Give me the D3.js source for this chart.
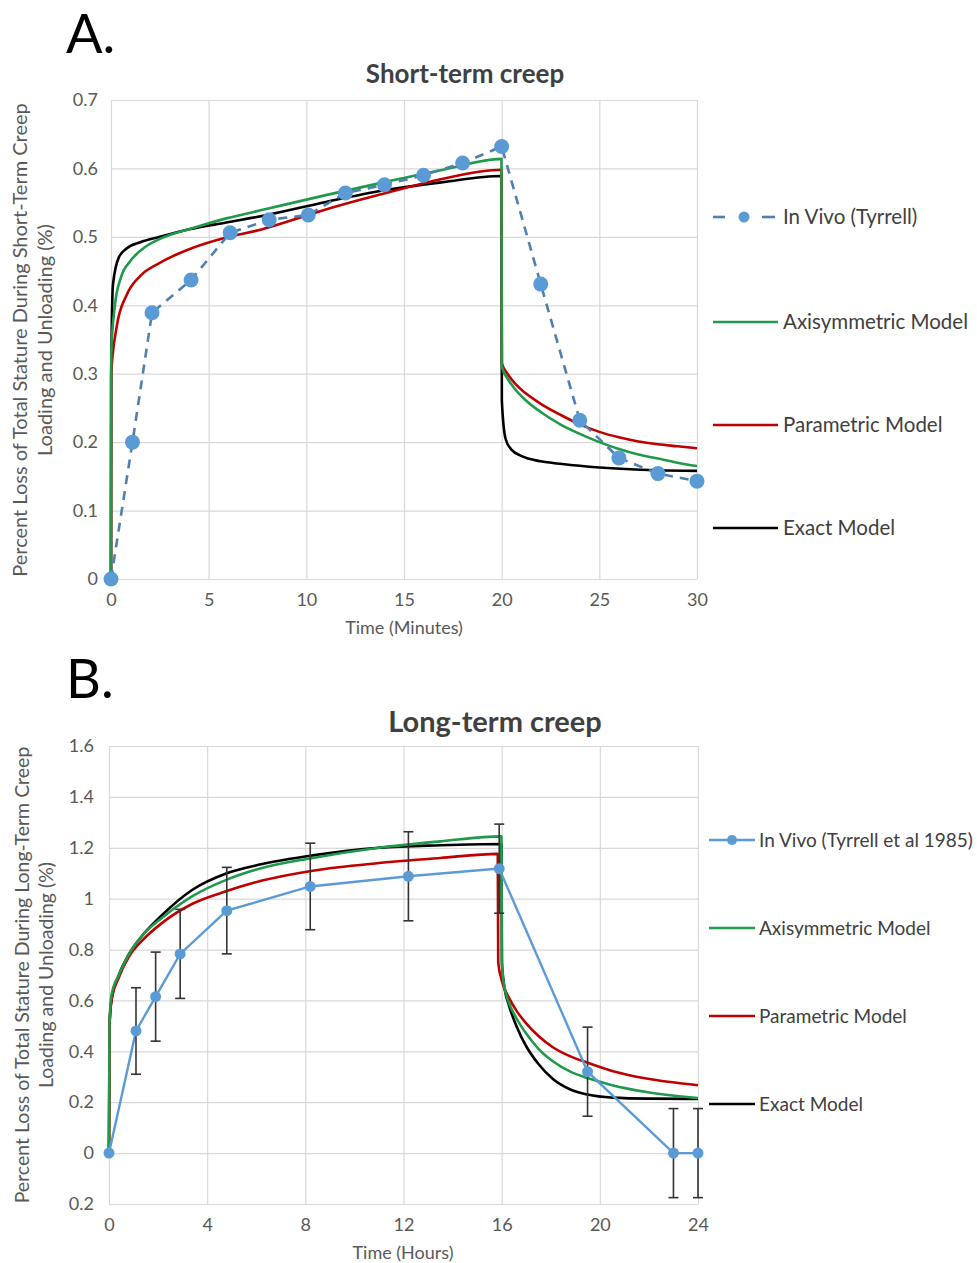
<!DOCTYPE html>
<html>
<head>
<meta charset="utf-8">
<script src="https://cdn.jsdelivr.net/npm/d3@7"></script>
<style>
  html, body { margin: 0; padding: 0; background: #fff; }
  svg { display: block; font-family: Lato, "Open Sans", sans-serif; }
</style>
</head>
<body>
<svg id="chart" width="977" height="1263"></svg>
<script>
// ---------------- DATA: Panel A (short-term creep, minutes) ----------------
const shortTicksX = [0, 5, 10, 15, 20, 25, 30];
const shortTicksY = [0, 0.1, 0.2, 0.3, 0.4, 0.5, 0.6, 0.7];
const shortInVivoT = [0, 1.1, 2.1, 4.1, 6.1, 8.1, 10.1, 12, 14, 16, 18, 20, 22, 24, 26, 28, 30];
const shortInVivoV = [0, 0.2, 0.389, 0.437, 0.506, 0.525, 0.532, 0.564, 0.576, 0.59, 0.608, 0.632, 0.431, 0.232, 0.177, 0.154, 0.143];
const shortAxisym = [[0,0],[0.01,0.33],[0.2,0.4],[0.5,0.44],[1,0.465],[1.6,0.482],[2.5,0.497],[4.2,0.513],[5.9,0.527],[8,0.541],[11,0.561],[14,0.58],[17,0.598],[19.99,0.614],
  [20.01,0.31],[20.3,0.293],[20.7,0.277],[21.2,0.262],[22,0.244],[23,0.226],[24,0.212],[25,0.2],[26,0.19],[27,0.182],[28,0.176],[29,0.17],[30,0.165]];
const shortParam = [[0,0],[0.01,0.3],[0.3,0.37],[0.8,0.415],[1.5,0.443],[2.5,0.462],[4.2,0.484],[5.9,0.499],[7.6,0.51],[9,0.522],[11,0.54],[13,0.556],[15,0.571],[17,0.585],[19.99,0.598],
  [20.01,0.315],[20.3,0.3],[20.7,0.285],[21.2,0.272],[22,0.256],[23,0.24],[24,0.226],[25,0.215],[26,0.207],[27,0.201],[28,0.197],[29,0.194],[30,0.191]];
const shortExact = [[0,0],[0.01,0.3],[0.1,0.43],[0.4,0.47],[0.8,0.483],[1.5,0.492],[2.5,0.5],[4,0.511],[5.9,0.521],[8,0.532],[11,0.551],[14,0.568],[17,0.58],[19.99,0.589],
  [20.01,0.26],[20.2,0.205],[20.5,0.189],[21,0.18],[22,0.172],[23.1,0.168],[25,0.163],[28,0.159],[30,0.158]];

// ---------------- DATA: Panel B (long-term creep, hours) ----------------
const longTicksX = [0, 4, 8, 12, 16, 20, 24];
const longTicksY = [-0.2, 0, 0.2, 0.4, 0.6, 0.8, 1, 1.2, 1.4, 1.6];
const longInVivoT = [0, 1.1, 1.9, 2.9, 4.8, 8.2, 12.2, 15.9, 19.5, 23, 24];
const longInVivoV = [0, 0.48, 0.615, 0.783, 0.953, 1.048, 1.088, 1.118, 0.32, 0, 0];
const longInVivoErr = [0, 0.17, 0.175, 0.175, 0.17, 0.17, 0.175, 0.175, 0.175, 0.175, 0.175];
const longAxisym = [[0,0],[0.02,0.5],[0.1,0.62],[0.4,0.7],[0.8,0.78],[1.4,0.86],[2.1,0.92],[3.4,1.01],[4.8,1.075],[6.2,1.12],[8.3,1.16],[11,1.2],[13.5,1.225],[15.99,1.245],
  [16.01,0.75],[16.1,0.66],[16.3,0.59],[16.6,0.53],[17,0.47],[17.5,0.41],[18.1,0.36],[18.8,0.32],[19.5,0.295],[20.5,0.267],[21.9,0.24],[24,0.216]];
const longParam = [[0,0],[0.02,0.5],[0.1,0.6],[0.4,0.69],[0.8,0.77],[1.4,0.84],[2.1,0.9],[3.4,0.98],[4.8,1.03],[6.2,1.07],[8.3,1.11],[11,1.14],[13.5,1.16],[15.84,1.176],
  [15.86,0.75],[16.0,0.68],[16.3,0.61],[16.6,0.56],[17,0.51],[17.5,0.46],[18.1,0.415],[18.8,0.38],[19.5,0.355],[20.5,0.323],[21.9,0.293],[24,0.267]];
const longExact = [[0,0],[0.02,0.5],[0.1,0.6],[0.4,0.7],[0.8,0.78],[1.4,0.86],[2.1,0.93],[3.4,1.035],[4.8,1.1],[6.2,1.135],[8.3,1.17],[11,1.2],[13.5,1.21],[15.99,1.215],
  [16.01,0.75],[16.1,0.66],[16.3,0.58],[16.6,0.5],[17,0.42],[17.5,0.35],[18.1,0.29],[18.8,0.25],[19.5,0.23],[20.5,0.218],[22,0.214],[24,0.213]];

// ---------------- STYLE ----------------
const GRID = "#d9d9d9", TICK = "#595959", TXT = "#404040";
const C_VIVO = "#5b9bd5", C_VIVO_LINE = "#4f7fb0", C_GREEN = "#1f9a4a", C_RED = "#c00000", C_BLACK = "#000000";

const svg = d3.select("#chart");

function panel(cfg) {
  const x = d3.scaleLinear().domain(cfg.xDom).range(cfg.xRange);
  const y = d3.scaleLinear().domain(cfg.yDom).range(cfg.yRange);
  const g = svg.append("g");
  const h = cfg.yRange[0] - cfg.yRange[1];
  const w = cfg.xRange[1] - cfg.xRange[0];

  const gx = g.append("g").attr("transform", `translate(0,${cfg.yRange[0]})`)
    .call(d3.axisBottom(x).tickValues(cfg.ticksX).tickSize(-h).tickPadding(cfg.padX).tickFormat(d3.format("d")));
  const gy = g.append("g").attr("transform", `translate(${cfg.xRange[0]},0)`)
    .call(d3.axisLeft(y).tickValues(cfg.ticksY).tickSize(-w).tickPadding(cfg.padY).tickFormat(cfg.fmtY));
  [gx, gy].forEach(a => {
    a.select(".domain").remove();
    a.selectAll("line").attr("stroke", GRID).attr("stroke-width", 1.2);
    a.selectAll("text").attr("fill", TICK).style("font-size", cfg.tickFont + "px").style("font-family", "Lato, sans-serif");
  });

  const line = d3.line().x(d => x(d[0])).y(d => y(d[1])).curve(d3.curveMonotoneX);
  const models = [[cfg.exact, C_BLACK], [cfg.param, C_RED], [cfg.axisym, C_GREEN]];
  models.forEach(([data, col]) => {
    g.append("path").datum(data).attr("d", line).attr("fill", "none")
      .attr("stroke", col).attr("stroke-width", 2.6).attr("stroke-linejoin", "round");
  });
  return { g, x, y };
}

// ---------- Panel A ----------
const A = panel({
  xDom: [0, 30], xRange: [111, 697], yDom: [0, 0.7], yRange: [579, 100],
  ticksX: shortTicksX, ticksY: shortTicksY, padX: 14, padY: 13, tickFont: 18,
  fmtY: d => d === 0 ? "0" : d3.format(".1f")(d),
  exact: shortExact, param: shortParam, axisym: shortAxisym
});
const vivoA = shortInVivoT.map((t, i) => [t, shortInVivoV[i]]);
A.g.append("path").datum(vivoA)
  .attr("d", d3.line().x(d => A.x(d[0])).y(d => A.y(d[1])))
  .attr("fill", "none").attr("stroke", C_VIVO_LINE).attr("stroke-width", 2.6).attr("stroke-dasharray", "9,7");
A.g.selectAll("circle.v").data(vivoA).join("circle")
  .attr("cx", d => A.x(d[0])).attr("cy", d => A.y(d[1])).attr("r", 7.5).attr("fill", C_VIVO);

// ---------- Panel B ----------
const B = panel({
  xDom: [0, 24], xRange: [109, 698], yDom: [-0.2, 1.6], yRange: [1204, 746],
  ticksX: longTicksX, ticksY: longTicksY, padX: 14, padY: 15, tickFont: 18,
  fmtY: d => { const a = Math.abs(d); return a === 0 ? "0" : (Number.isInteger(a) ? String(a) : d3.format(".1f")(a)); },
  exact: longExact, param: longParam, axisym: longAxisym
});
const vivoB = longInVivoT.map((t, i) => [t, longInVivoV[i], longInVivoErr[i]]);
B.g.append("path").datum(vivoB)
  .attr("d", d3.line().x(d => B.x(d[0])).y(d => B.y(d[1])))
  .attr("fill", "none").attr("stroke", C_VIVO).attr("stroke-width", 2.4);
const eb = B.g.selectAll("g.err").data(vivoB.filter(d => d[2] > 0)).join("g");
eb.append("line").attr("x1", d => B.x(d[0])).attr("x2", d => B.x(d[0]))
  .attr("y1", d => B.y(d[1] + d[2])).attr("y2", d => B.y(d[1] - d[2]))
  .attr("stroke", "#333").attr("stroke-width", 1.6);
[1, -1].forEach(s => {
  eb.append("line").attr("x1", d => B.x(d[0]) - 5).attr("x2", d => B.x(d[0]) + 5)
    .attr("y1", d => B.y(d[1] + s * d[2])).attr("y2", d => B.y(d[1] + s * d[2]))
    .attr("stroke", "#333").attr("stroke-width", 1.6);
});
B.g.selectAll("circle.v").data(vivoB).join("circle")
  .attr("cx", d => B.x(d[0])).attr("cy", d => B.y(d[1])).attr("r", 5.5).attr("fill", C_VIVO);

// ---------- Titles & labels ----------
svg.append("text").attr("x", 66).attr("y", 53).text("A.").attr("font-size", 54).attr("fill", "#000");
svg.append("text").attr("x", 66).attr("y", 698).text("B.").attr("font-size", 54).attr("fill", "#000");
svg.append("text").attr("x", 465).attr("y", 83).attr("text-anchor", "middle").text("Short-term creep")
  .attr("font-size", 26).attr("font-weight", "bold").attr("fill", TXT);
svg.append("text").attr("x", 495).attr("y", 732).attr("text-anchor", "middle").text("Long-term creep")
  .attr("font-size", 29).attr("font-weight", "bold").attr("fill", TXT);
svg.append("text").attr("x", 404).attr("y", 634).attr("text-anchor", "middle").text("Time (Minutes)")
  .attr("font-size", 18).attr("fill", TICK);
svg.append("text").attr("x", 403).attr("y", 1259).attr("text-anchor", "middle").text("Time (Hours)")
  .attr("font-size", 18).attr("fill", TICK);

function ylab(cx, cy, lines, fs, gap) {
  const t = svg.append("text").attr("transform", `translate(${cx},${cy}) rotate(-90)`)
    .attr("text-anchor", "middle").attr("font-size", fs).attr("fill", TICK);
  lines.forEach((s, i) => t.append("tspan").attr("x", 0).attr("dy", i === 0 ? 0 : gap).text(s));
}
ylab(27, 340, ["Percent Loss of Total Stature During Short-Term Creep", "Loading and Unloading (%)"], 20, 25);
ylab(29, 975, ["Percent Loss of Total Stature During Long-Term Creep", "Loading and Unloading (%)"], 19.5, 24);

// ---------- Legends ----------
const legA = [
  { label: "In Vivo (Tyrrell)", col: C_VIVO_LINE, dash: true, y: 217 },
  { label: "Axisymmetric Model", col: C_GREEN, y: 322 },
  { label: "Parametric Model", col: C_RED, y: 425 },
  { label: "Exact Model", col: C_BLACK, y: 528 }
];
legA.forEach(d => {
  if (d.dash) {
    svg.append("line").attr("x1", 713).attr("x2", 725).attr("y1", d.y).attr("y2", d.y).attr("stroke", d.col).attr("stroke-width", 2.6);
    svg.append("line").attr("x1", 762).attr("x2", 775).attr("y1", d.y).attr("y2", d.y).attr("stroke", d.col).attr("stroke-width", 2.6);
    svg.append("circle").attr("cx", 744).attr("cy", d.y).attr("r", 5.5).attr("fill", C_VIVO);
  } else {
    svg.append("line").attr("x1", 713).attr("x2", 778).attr("y1", d.y).attr("y2", d.y).attr("stroke", d.col).attr("stroke-width", 2.6);
  }
  svg.append("text").attr("x", 783).attr("y", d.y).attr("dy", "0.35em").text(d.label).attr("font-size", 20.5).attr("fill", TXT);
});
const legB = [
  { label: "In Vivo (Tyrrell et al 1985)", col: C_VIVO, marker: true, y: 840 },
  { label: "Axisymmetric Model", col: C_GREEN, y: 928 },
  { label: "Parametric Model", col: C_RED, y: 1016 },
  { label: "Exact Model", col: C_BLACK, y: 1104 }
];
legB.forEach(d => {
  svg.append("line").attr("x1", 709).attr("x2", 755).attr("y1", d.y).attr("y2", d.y).attr("stroke", d.col).attr("stroke-width", 2.6);
  if (d.marker) svg.append("circle").attr("cx", 732).attr("cy", d.y).attr("r", 5).attr("fill", C_VIVO);
  svg.append("text").attr("x", 759).attr("y", d.y).attr("dy", "0.35em").text(d.label).attr("font-size", 19).attr("fill", TXT);
});
</script>
</body>
</html>
